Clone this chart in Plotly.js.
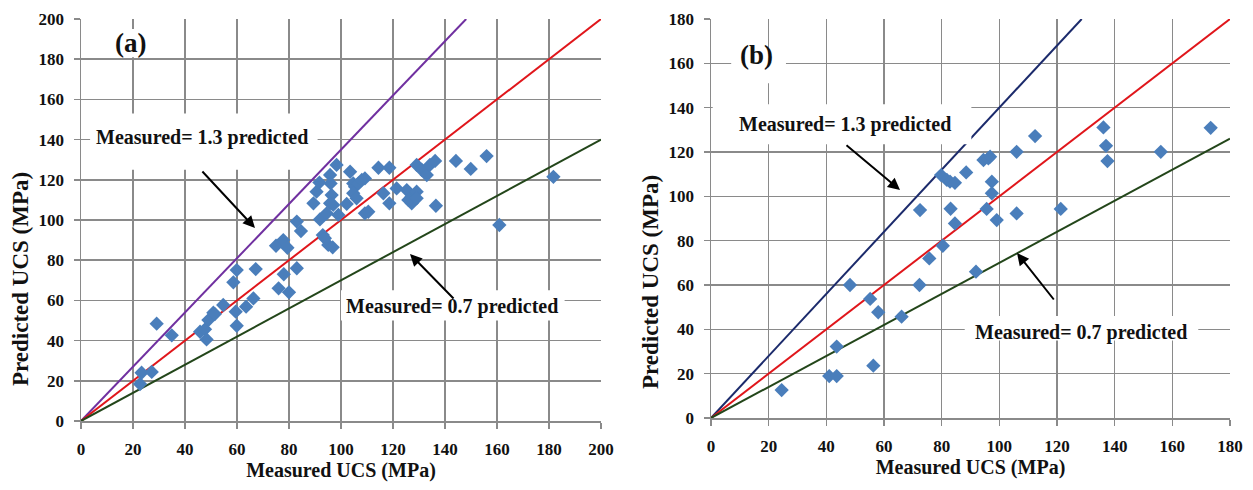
<!DOCTYPE html>
<html><head><meta charset="utf-8">
<script src="https://cdn.plot.ly/plotly-3.0.1.min.js"></script>
<style>html,body{margin:0;padding:0;background:#fff}#c{width:1253px;height:490px}</style>
</head><body><div id="c"></div>
<script>
// Panel (a) data
const aMeasured = [22.7,23.3,27.2,29.1,34.9,45.8,47.7,48.3,49,50.9,51.5,54.7,58.6,59.9,59.5,59.9,63.5,66.3,67.2,
  75,77.8,79.4,83,84.6,76,78,80,83,
  89.4,90.6,91.7,91.9,93,94.5,95.8,96,96.4,95.8,97,98.3,95.1,96.8,93.8,102.2,103.5,104.7,99,
  105.4,106.7,108,109.2,104.7,106,109.2,110.5,116.3,118.6,121.4,125.3,127.2,129.1,127.2,125.9,129.1,136.5,
  114.4,118.6,129.1,131,133,134.2,136.2,144.2,149.9,156,160.9,181.7];
const aPredicted = [18.4,24,24.4,48.4,42.6,44.4,45.6,40.6,50.2,53.9,53.2,57.7,69,75.1,54.4,47.4,56.9,61,75.6,
  87.2,90,86.2,99.2,94.5,66,73,64,76,
  108.3,114.1,118.6,100.3,92.5,103.3,122.4,118.2,112.4,108.3,107.5,127.4,87.6,86.4,90.9,108,124,118.2,102.5,
  116.6,118.2,119.9,120.7,113.3,110.8,103.3,104.1,113.3,108.3,115.7,114.9,111.6,114.1,108.3,110,110.8,107.1,
  126,126,127.4,125,122.4,127.4,129.4,129.4,125.4,131.8,97.5,121.5];
// Panel (b) data
const bMeasured = [24.5,41,43.6,43.6,48.2,56.3,55.2,58,66.1,72.3,72.5,75.7,80.4,79.8,81.8,82.9,84.6,88.5,94.5,96.2,96.8,97.4,97.4,83.1,84.6,95.6,99.1,106,106,112.4,136.1,137,137.5,156,173.3,121.3,91.9];
const bPredicted = [12.6,18.9,18.9,32.2,60,23.6,53.7,47.7,45.7,60,93.8,72,77.7,109.6,107.4,106.6,106.1,110.8,116.4,117.1,117.9,106.6,101.4,94.4,87.8,94.3,89.3,120.1,92.3,127.2,131.1,122.8,115.9,120.1,130.9,94.3,66];
// Reference line ratios (predicted = ratio * measured)
const aRatios = [1.35, 1.0, 0.7];
const aLineColors = ['#7030A0','#E0161B','#23461A'];
const bRatios = [1.4, 1.0, 0.7];
const bLineColors = ['#1B2A6B','#E0161B','#23461A'];
const xTicksA = [0,20,40,60,80,100,120,140,160,180,200];
const xTicksB = [0,20,40,60,80,100,120,140,160,180];
const xTitle = 'Measured UCS (MPa)';
const yTitle = 'Predicted UCS (MPa)';

const W = 1253, H = 490;
const px = x => x / W, py = y => 1 - y / H;
const serif = '"Liberation Serif", serif';

function refLine(ratio, color, xmax, ymax, xa, ya) {
  const xe = Math.min(xmax, ymax / ratio);
  return {x: [0, xe], y: [0, ratio * xe], mode: 'lines', xaxis: xa, yaxis: ya,
    line: {color: color, width: 2}, hoverinfo: 'skip', showlegend: false};
}
const traces = [];
aRatios.forEach((r, i) => traces.push(refLine(r, aLineColors[i], 200, 200, 'x', 'y')));
bRatios.forEach((r, i) => traces.push(refLine(r, bLineColors[i], 180, 180, 'x2', 'y2')));
const mk = {symbol: 'diamond', size: 11, color: '#4A7EBB'};
traces.push({x: aMeasured, y: aPredicted, mode: 'markers', marker: mk, xaxis: 'x', yaxis: 'y', showlegend: false});
traces.push({x: bMeasured, y: bPredicted, mode: 'markers', marker: mk, xaxis: 'x2', yaxis: 'y2', showlegend: false});

const tickFont = {family: serif, size: 17, color: '#111', weight: 'bold'};
const titleFont = {family: serif, size: 20, color: '#111', weight: 'bold'};
function ax(extra) {
  return Object.assign({showgrid: true, gridcolor: '#8a8a8a', gridwidth: 1.5, zeroline: false,
    showline: true, linecolor: '#8a8a8a', linewidth: 1.5, ticks: 'outside', ticklen: 6,
    tickcolor: '#8a8a8a', tickwidth: 1.5, tickfont: tickFont, fixedrange: true, ticklabelstandoff: 6}, extra);
}
function ann(text, x, y, size, pad, angle) {
  return {text: text, x: px(x), y: py(y), xref: 'paper', yref: 'paper', xanchor: 'center', yanchor: 'middle',
    textangle: angle || 0, showarrow: false, font: {family: serif, size: size, color: '#111', weight: 'bold'},
    bgcolor: 'rgba(255,255,255,0)', borderpad: pad};
}
function arrow(hx, hy, axo, ayo) {
  return {text: '', x: px(hx), y: py(hy), xref: 'paper', yref: 'paper', ax: axo, ay: ayo, showarrow: true,
    arrowhead: 2, arrowsize: 1.2, arrowwidth: 2, arrowcolor: '#000'};
}
const layout = {
  width: W, height: H, margin: {l: 0, r: 0, t: 0, b: 0}, paper_bgcolor: '#fff', plot_bgcolor: '#fff',
  showlegend: false,
  xaxis: ax({domain: [px(81), px(601)], range: [0, 200], tickvals: xTicksA, anchor: 'y',
    title: {text: xTitle, font: titleFont, standoff: 1}}),
  yaxis: ax({domain: [py(421), py(19)], range: [0, 200], dtick: 20, anchor: 'x'}),
  xaxis2: ax({domain: [px(711), px(1230)], range: [0, 180], tickvals: xTicksB, anchor: 'y2',
    title: {text: xTitle, font: titleFont, standoff: 1}}),
  yaxis2: ax({domain: [py(418), py(19)], range: [0, 180], dtick: 20, anchor: 'x2'}),
  shapes: [
    // white text boxes behind the labels (cover gridlines like the original text boxes)
    {type: 'rect', xref: 'x', yref: 'y', x0: 3.5, x1: 91, y0: 125, y1: 153, fillcolor: '#fff', line: {width: 0}, layer: 'above'},
    {type: 'rect', xref: 'x', yref: 'y', x0: 100, x1: 186, y0: 50, y1: 65, fillcolor: '#fff', line: {width: 0}, layer: 'above'},
    {type: 'rect', xref: 'x2', yref: 'y2', x0: 0.6, x1: 90.3, y0: 123.5, y1: 141.5, fillcolor: '#fff', line: {width: 0}, layer: 'above'},
    {type: 'rect', xref: 'x2', yref: 'y2', x0: 88, x1: 169, y0: 35, y1: 46, fillcolor: '#fff', line: {width: 0}, layer: 'above'},
    {type: 'rect', xref: 'x', yref: 'y', x0: 8, x1: 29, y0: 181, y1: 195, fillcolor: '#fff', line: {width: 0}, layer: 'above'},
    {type: 'rect', xref: 'x2', yref: 'y2', x0: 7, x1: 26, y0: 151, y1: 167, fillcolor: '#fff', line: {width: 0}, layer: 'above'}
  ],
  annotations: [
    ann(yTitle, 20, 279, 23, 0, -90),
    ann(yTitle, 650, 282, 23, 0, -90),
    ann('(a)', 130, 43, 27, 2),
    ann('(b)', 756, 55, 27, 2),
    ann('Measured= 1.3 predicted', 202, 137, 20, 4),
    ann('Measured= 0.7 predicted', 452, 306, 20, 4),
    ann('Measured= 1.3 predicted', 845, 125, 20, 4),
    ann('Measured= 0.7 predicted', 1081, 332, 20, 4),
    arrow(255, 228, -54, -58),
    arrow(410, 254, 45, 46),
    arrow(900, 190, -55, -46),
    arrow(1017, 253, 38, 48)
  ]
};
Plotly.newPlot('c', traces, layout, {displayModeBar: false, staticPlot: true});
</script></body></html>
